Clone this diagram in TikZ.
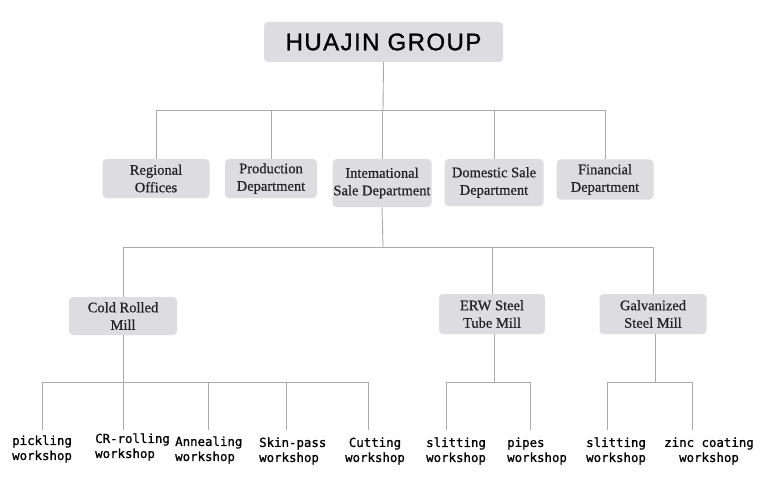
\documentclass[tikz,border=0pt]{standalone}
\usepackage{fontspec}
\setmainfont{Liberation Serif}[FakeBold=0.6]
\newfontfamily\titlefont[LetterSpace=6,FakeBold=1.2]{Liberation Sans}
\newfontfamily\wsfont[FakeBold=1]{DejaVu Sans Mono}
\definecolor{boxgray}{RGB}{221,220,225}
\definecolor{linegray}{RGB}{170,170,170}
\definecolor{txt}{RGB}{35,35,35}
\begin{document}
\begin{tikzpicture}[x=1pt,y=-1pt,
  box/.style={fill=boxgray, rounded corners=4pt, inner sep=0pt, align=center, text=txt,
    font=\fontsize{14.5}{17.5}\selectfont},
  conn/.style={draw=linegray, line width=0.9pt},
  ws/.style={inner sep=0pt, text=black, font=\wsfont\fontsize{12.4}{15}\selectfont}]
\useasboundingbox[fill=white] (0,0) rectangle (762,481);

% level 1
\node[box, minimum width=239pt, minimum height=40pt, font=\titlefont\fontsize{24}{28}\selectfont, text=black] (title) at (383.5,42) {HUAJIN GROUP};

% level 2
\node[box, minimum width=107pt, minimum height=39pt] (reg) at (156,178.5) {Regional\\Offices};
\node[box, minimum width=92pt, minimum height=39pt] (prod) at (271,178.5) {Production\\Department};
\node[box, minimum width=99pt, minimum height=48pt] (intl) at (382,183) {Intemational\\Sale Department};
\node[box, minimum width=99pt, minimum height=47pt] (dom) at (494,182.5) {Domestic Sale\\Department};
\node[box, minimum width=97pt, minimum height=40pt] (fin) at (605,179.5) {Financial\\Department};

% level 3
\node[box, minimum width=108pt, minimum height=38pt] (crm) at (123,316) {Cold Rolled\\Mill};
\node[box, minimum width=106pt, minimum height=40pt] (erw) at (492,314) {ERW Steel\\Tube Mill};
\node[box, minimum width=107pt, minimum height=40pt] (gal) at (653,314) {Galvanized\\Steel Mill};

% level 4 labels
\node[ws, anchor=west, align=left] (w1) at (12,449) {pickling\\workshop};
\node[ws, anchor=west, align=left] (w2) at (95,447) {CR-rolling\\workshop};
\node[ws, anchor=west, align=left] (w3) at (175,450) {Annealing\\workshop};
\node[ws, anchor=west, align=left] (w4) at (259,451) {Skin-pass\\workshop};
\node[ws, align=center] (w5) at (375,451) {Cutting\\workshop};
\node[ws, anchor=west, align=left] (w6) at (426,451) {slitting\\workshop};
\node[ws, anchor=west, align=left] (w7) at (507,451) {pipes\\workshop};
\node[ws, anchor=west, align=left] (w8) at (586,451) {slitting\\workshop};
\node[ws, align=center] (w9) at (709,451) {zinc coating\\workshop};

% bus coordinates
\coordinate (b1) at (383,110);
\coordinate (b2) at (383,247);
\coordinate (b3) at (123,382);
\coordinate (b4) at (494,382);
\coordinate (b5) at (655,382);
\coordinate (t1) at (42,430);
\coordinate (t2) at (123,430);
\coordinate (t3) at (208,430);
\coordinate (t4) at (286,430);
\coordinate (t5) at (368,430);
\coordinate (t6) at (446,430);
\coordinate (t7) at (530,430);
\coordinate (t8) at (607,430);
\coordinate (t9) at (692,430);

% connectors level 1-2
\draw[conn] (title.south) -- (b1);
\draw[conn] (reg.north) |- (b1);
\draw[conn] (prod.north) |- (b1);
\draw[conn] (intl.north) |- (b1);
\draw[conn] (dom.north) |- (b1);
\draw[conn] (fin.north) |- (b1);

% connectors level 2-3
\draw[conn] (intl.south) -- (b2);
\draw[conn] (crm.north) |- (b2);
\draw[conn] (erw.north) |- (b2);
\draw[conn] (gal.north) |- (b2);

% connectors level 3-4
\draw[conn] (crm.south) -- (b3);
\draw[conn] (t1) |- (b3);
\draw[conn] (t2) -- (b3);
\draw[conn] (t3) |- (b3);
\draw[conn] (t4) |- (b3);
\draw[conn] (t5) |- (b3);
\draw[conn] (erw.south -| b4) -- (b4);
\draw[conn] (t6) |- (b4);
\draw[conn] (t7) |- (b4);
\draw[conn] (gal.south -| b5) -- (b5);
\draw[conn] (t8) |- (b5);
\draw[conn] (t9) |- (b5);
\end{tikzpicture}
\end{document}
